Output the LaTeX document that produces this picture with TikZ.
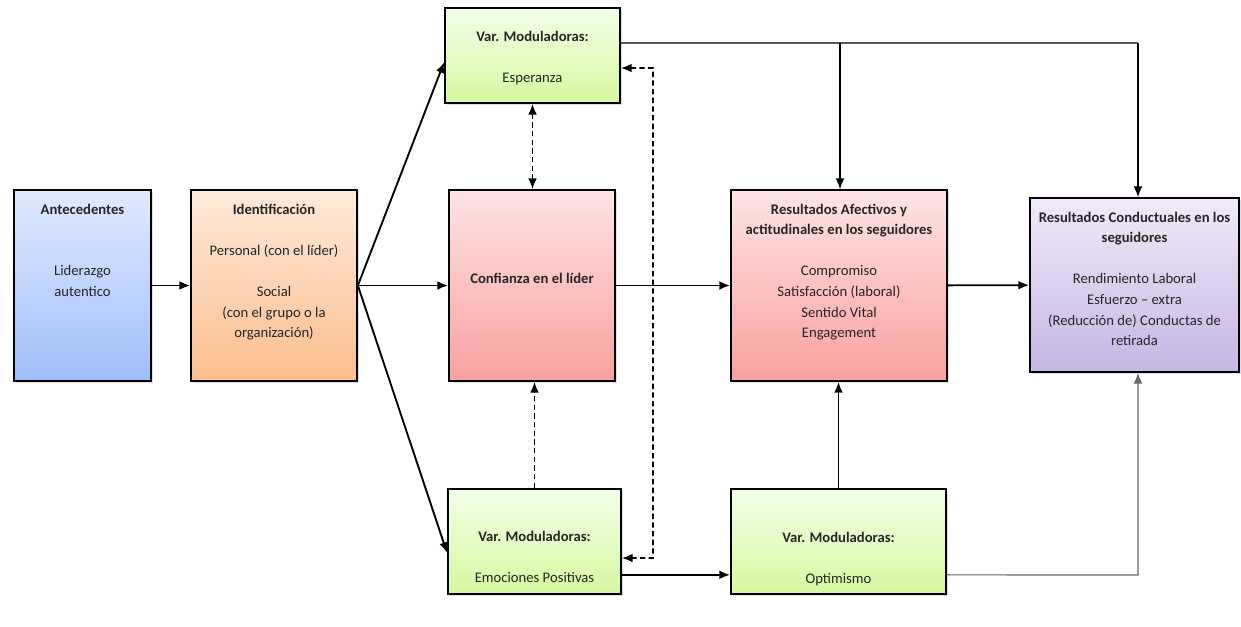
\documentclass[tikz,border=0pt]{standalone}
\usepackage{fontspec}
\setmainfont{Carlito}
\usetikzlibrary{arrows.meta, shadows}

\definecolor{blueTop}{RGB}{224,234,255}
\definecolor{blueBot}{RGB}{160,190,250}
\definecolor{orangeTop}{RGB}{255,234,218}
\definecolor{orangeBot}{RGB}{250,190,142}
\definecolor{pinkTop}{RGB}{255,228,228}
\definecolor{pinkBot}{RGB}{250,160,160}
\definecolor{greenTop}{RGB}{242,255,232}
\definecolor{greenBot}{RGB}{214,248,160}
\definecolor{lilacTop}{RGB}{240,234,248}
\definecolor{lilacBot}{RGB}{198,182,228}

\begin{document}
\begin{tikzpicture}[
            x = 0.75pt, y = -0.75pt, % one unit = one pixel of the layout
            > = {Latex[length=8pt, width=6.5pt]}, % arrow head style
            font = \fontsize{11}{15.4}\selectfont,
            every node/.style = {align = center, text = black!85, inner sep = 0pt},
            boxsize/.style 2 args = {minimum width = #1*0.75pt, minimum height = #2*0.75pt},
            conn/.style = {line width = 1.4pt},
            dashes/.style = {line width = 1.3pt, dash pattern = on 4pt off 2.5pt}
        ]

        \tikzstyle{box}=[
            draw = black,
            line width = 1.3pt,
            drop shadow = {opacity = 0.25, shadow xshift = 1.5pt, shadow yshift = -1.5pt}
        ]

        \useasboundingbox (0,0) rectangle (1241,626);

        % boxes
        \node[box, boxsize={137}{191}, top color = blueTop, bottom color = blueBot] (ante) at (82.5,285.5) {};
        \node[box, boxsize={166}{191}, top color = orangeTop, bottom color = orangeBot] (ident) at (274,285.5) {};
        \node[box, boxsize={175}{95}, top color = greenTop, bottom color = greenBot] (esper) at (532.5,55.5) {};
        \node[box, boxsize={166}{191}, top color = pinkTop, bottom color = pinkBot] (conf) at (532,285.5) {};
        \node[box, boxsize={173}{105}, top color = greenTop, bottom color = greenBot] (emoc) at (534.5,541.5) {};
        \node[box, boxsize={216}{191}, top color = pinkTop, bottom color = pinkBot] (afect) at (839,285.5) {};
        \node[box, boxsize={215}{105}, top color = greenTop, bottom color = greenBot] (optim) at (838.5,541.5) {};
        \node[box, boxsize={209}{174}, top color = lilacTop, bottom color = lilacBot] (cond) at (1134.5,285) {};

        % texts
        \node[anchor = north] (anteTxt) at ([yshift=-11pt]ante.north)
            {\textbf{Antecedentes}\\[30.8pt] Liderazgo\\ autentico};
        \node[anchor = north] (identTxt) at ([yshift=-11pt]ident.north)
            {\textbf{Identificación}\\[15.4pt] Personal (con el líder)\\[15.4pt] Social\\ (con el grupo o la\\ organización)};
        \node[anchor = north] (esperTxt) at ([yshift=-18pt]esper.north)
            {\textbf{Var. Moduladoras:}\\[15.4pt] Esperanza};
        \node (confTxt) at ([yshift=5.5pt]conf.center) {\textbf{Confianza en el líder}};
        \node[anchor = north] (emocTxt) at ([yshift=-32pt]emoc.north)
            {\textbf{Var. Moduladoras:}\\[15.4pt] Emociones Positivas};
        \node[anchor = north] (afectTxt) at ([yshift=-11pt]afect.north)
            {\textbf{Resultados Afectivos y}\\ \textbf{actitudinales en los seguidores}\\[15.4pt]
             Compromiso\\ Satisfacción (laboral)\\ Sentido Vital\\ Engagement};
        \node[anchor = north] (optimTxt) at ([yshift=-32.5pt]optim.north)
            {\textbf{Var. Moduladoras:}\\[15.4pt] Optimismo};
        \node[anchor = north] (condTxt) at ([yshift=-11pt]cond.north)
            {\textbf{Resultados Conductuales en los}\\ \textbf{seguidores}\\[15.4pt]
             Rendimiento Laboral\\ Esfuerzo -- extra\\ (Reducción de) Conductas de\\ retirada};

        % bend points
        \coordinate (loopTop) at (653,68);
        \coordinate (loopBot) at (653,558);
        \coordinate (topBranch) at (840,43);
        \coordinate (topRight) at (1138,43);
        \coordinate (botRight) at (1138,575);

        % connectors
        \draw[conn, ->] (ante) -- (ident);
        \draw[conn, ->] (ident.east) -- ([yshift=-5pt]esper.west);
        \draw[conn, ->] (ident) -- (conf);
        \draw[conn, ->] (ident.east) -- ([yshift=-8.6pt]emoc.west);
        \draw[dashes, <->] (esper.south) -- (esper.south |- conf.north);
        \draw[dashes, ->] (emoc.north) -- (emoc.north |- conf.south);
        \draw[dashes, <->] ([yshift=-9.4pt]esper.east) -- (loopTop) -- (loopBot) -- ([yshift=-12.4pt]emoc.east);
        \draw[conn, ->] (conf) -- (afect);
        \draw[conn, ->] (afect) -- (cond);
        \draw[conn, ->] ([yshift=-25pt]emoc.east) -- ([yshift=-25pt]optim.west);
        \draw[conn, ->] (optim.north) -- (optim.north |- afect.south);
        \draw[line width = 0.9pt] ([yshift=9.4pt]esper.east) -- (topRight);
        \draw[line width = 0.9pt, ->] (topBranch) -- (topBranch |- afect.north);
        \draw[line width = 0.9pt, ->] (topRight) -- (topRight |- cond.north);
        \draw[line width = 0.9pt, black!60, ->] ([yshift=-25pt]optim.east) -- (botRight) -- (botRight |- cond.south);
    \end{tikzpicture}
\end{document}
